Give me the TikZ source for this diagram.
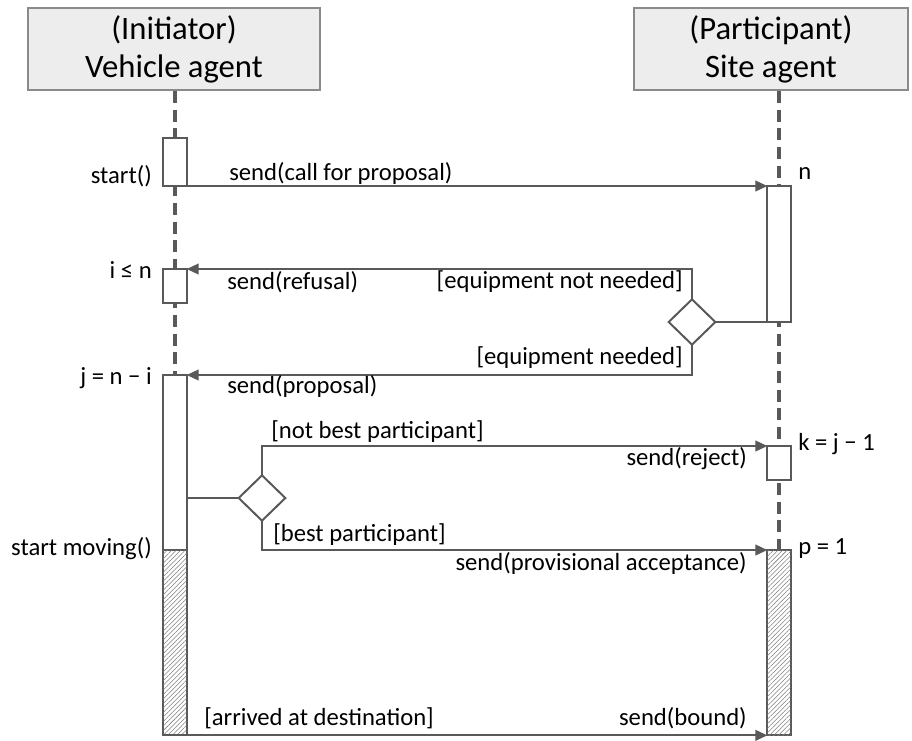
\documentclass[tikz,border=0pt]{standalone}
\usepackage{fontspec}
\setmainfont{Carlito}
\usetikzlibrary{arrows.meta,shapes.geometric,patterns.meta}
\definecolor{linegray}{HTML}{595959}
\definecolor{headfill}{HTML}{EDEDED}
\definecolor{headline}{HTML}{8A8A8A}
\begin{document}
\begin{tikzpicture}[x=0.75pt,y=-0.75pt,
  header/.style={draw=headline,line width=1.5pt,fill=headfill,minimum height=61.5pt,
    align=center,font=\fontsize{24.5}{28.5}\selectfont,inner sep=0pt},
  lifeline/.style={draw=linegray,line width=3pt,dash pattern=on 9pt off 5pt},
  act/.style={draw=linegray,line width=1.5pt,fill=white,minimum width=17.5pt,inner sep=0pt,outer sep=0pt,anchor=north},
  hatched/.style={act,postaction={pattern={Lines[angle=45,distance=2.4pt,line width=0.4pt]},pattern color=gray}},
  msg/.style={draw=linegray,line width=1.5pt,-{Triangle[length=9pt,width=8pt]}},
  link/.style={draw=linegray,line width=1.5pt},
  choice/.style={diamond,draw=linegray,line width=1.5pt,fill=white,minimum width=35pt,minimum height=34pt,inner sep=0pt,outer sep=0pt},
  lbl/.style={font=\fontsize{18.5}{22}\selectfont,inner sep=0pt}]
\useasboundingbox (0,0) rectangle (912,740);

% lifeline heads
\node[header,minimum width=219pt] (vh) at (174,49) {(Initiator)\\Vehicle agent};
\node[header,minimum width=206pt] (sh) at (771,49) {(Participant)\\Site agent};

% lifelines
\coordinate (vend) at (175,735);
\coordinate (send) at (779,735);
\draw[lifeline] (vh.south -| vend) -- (vend);
\draw[lifeline] (sh.south -| send) -- (send);

% activations of the vehicle agent
\node[act,minimum height=36pt] (a1) at (175,138) {};
\node[act,minimum height=25.5pt] (a2) at (175,269) {};
\node[act,minimum height=131pt] (a3) at (175,375) {};
\node[hatched,minimum height=139pt] (a3h) at (175,550) {};

% activations of the site agent
\node[act,minimum height=102pt] (r1) at (779,186) {};
\node[act,minimum height=25.5pt] (r2) at (779,446) {};
\node[hatched,minimum height=139pt] (r3) at (779,550) {};

% decisions
\node[choice] (d1) at (692,322) {};
\node[choice] (d2) at (262,498) {};

% messages
\draw[msg] (a1.south east) -- (r1.north west);
\draw[link] (r1.south west) -- (d1.east);
\draw[msg] (d1.north) |- (a2.north east);
\draw[msg] (d1.south) |- (a3.north east);
\draw[link] (a3.east |- d2.west) -- (d2.west);
\draw[msg] (d2.north) |- (r2.north west);
\draw[msg] (d2.south) |- (r3.north west);
\draw[msg] (a3h.south west) -- (r3.south west);

% labels
\node[lbl,anchor=east] (t1) at (152,176) {start()};
\node[lbl,anchor=west] (t2) at (229,173) {send(call for proposal)};
\node[lbl,anchor=west] (t3) at (798,174) {n};
\node[lbl,anchor=east] (t4) at (152,270) {i ≤ n};
\node[lbl,anchor=west] (t5) at (227,282) {send(refusal)};
\node[lbl,anchor=east] (t6) at (683,282) {[equipment not needed]};
\node[lbl,anchor=east] (t7) at (683,358) {[equipment needed]};
\node[lbl,anchor=west] (t8) at (227,386) {send(proposal)};
\node[lbl,anchor=east] (t9) at (152,378) {j = n − i};
\node[lbl,anchor=west] (t10) at (271,432) {[not best participant]};
\node[lbl,anchor=east] (t11) at (747,459) {send(reject)};
\node[lbl,anchor=west] (t12) at (798,444) {k = j − 1};
\node[lbl,anchor=west] (t13) at (273,535) {[best participant]};
\node[lbl,anchor=east] (t14) at (747,563) {send(provisional acceptance)};
\node[lbl,anchor=west] (t15) at (798,549) {p = 1};
\node[lbl,anchor=east] (t16) at (152,549) {start moving()};
\node[lbl,anchor=west] (t17) at (204,718) {[arrived at destination]};
\node[lbl,anchor=east] (t18) at (747,718) {send(bound)};
\end{tikzpicture}
\end{document}
